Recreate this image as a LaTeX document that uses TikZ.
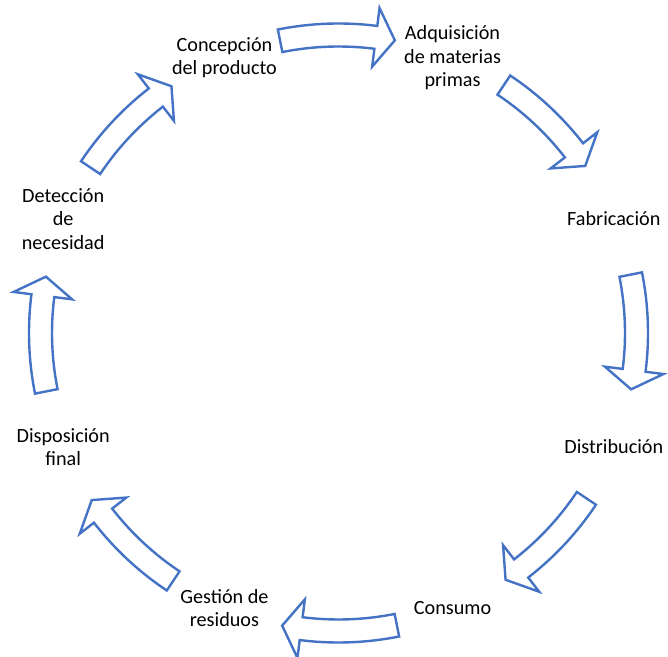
\documentclass[tikz,border=0pt]{standalone}
\usepackage{fontspec}
\setmainfont{Carlito}
\usetikzlibrary{calc}
\definecolor{arrowblue}{HTML}{4472C4}
\tikzset{
  stage/.style={align=center, font=\fontsize{20.2}{23.5}\selectfont, text=black, inner sep=0pt},
  cyclearrow/.style={draw=arrowblue, line width=2.4pt, fill=white, line join=miter}
}
% one curved block arrow centred on angle #1, running clockwise
\newcommand{\cyclearrowat}[1]{%
  \pgfmathsetmacro{\ta}{#1+11.3}%
  \pgfmathsetmacro{\tb}{#1-7.2}%
  \pgfmathsetmacro{\tc}{#1-10.9}%
  \draw[cyclearrow] (\ta:286.5) arc[start angle=\ta, end angle=\tb, radius=286.5]
    -- (\tb:268.5) -- (\tc:298) -- (\tb:327.5) -- (\tb:309.5)
    arc[start angle=\tb, end angle=\ta, radius=309.5] -- cycle;
}
\begin{document}
\begin{tikzpicture}[x=1pt, y=1pt]
  \useasboundingbox (0,0) rectangle (668,656);
  \begin{scope}[shift={(338.5,323)}]
    % stages of the cycle
    \node[stage] (concepcion) at (112.5:298) {Concepción\\del producto};
    \node[stage] (adquisicion) at (67.5:298) {Adquisición\\de materias\\primas};
    \node[stage] (fabricacion) at (22.5:298) {Fabricación};
    \node[stage] (distribucion) at (-22.5:298) {Distribución};
    \node[stage] (consumo) at (-67.5:298) {Consumo};
    \node[stage] (gestion) at (-112.5:298) {Gestión de\\residuos};
    \node[stage] (disposicion) at (-157.5:298) {Disposición\\final};
    \node[stage] (deteccion) at (157.5:298) {Detección\\de\\necesidad};
    % arrows between consecutive stages
    \foreach \a in {90,45,0,-45,-90,-135,180,135} {
      \cyclearrowat{\a}
    }
  \end{scope}
\end{tikzpicture}
\end{document}
